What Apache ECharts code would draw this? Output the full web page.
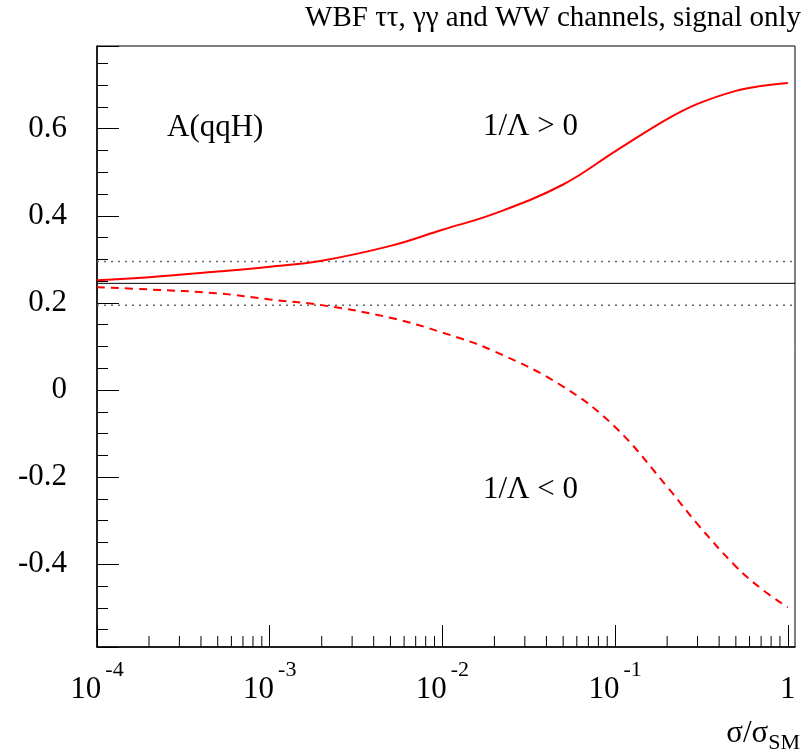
<!DOCTYPE html>
<html>
<head>
<meta charset="utf-8">
<title>A(qqH) vs sigma/sigma_SM</title>
<script src="https://cdn.jsdelivr.net/npm/echarts@6/dist/echarts.min.js"></script>
<style>
html, body { margin: 0; padding: 0; background: #fff; }
#chart { width: 804px; height: 750px; }
</style>
</head>
<body>
<div id="chart"></div>
<script>
// sigma / sigma_SM sample points
const sigmaRatio = [1e-4, 2e-4, 5e-4, 1e-3, 2e-3, 5e-3, 1e-2, 2e-2, 5e-2, 0.1, 0.2, 0.3, 0.5, 0.7, 1.0];
// A(qqH) for 1/Lambda > 0 (solid) and 1/Lambda < 0 (dashed)
const asymPositive = [0.252, 0.259, 0.272, 0.283, 0.297, 0.331, 0.368, 0.405, 0.472, 0.548, 0.622, 0.657, 0.687, 0.698, 0.705];
const asymNegative = [0.236, 0.231, 0.222, 0.208, 0.195, 0.166, 0.132, 0.089, 0.008, -0.085, -0.222, -0.308, -0.405, -0.456, -0.499];
// SM value and its band
const smValue = 0.245;
const bandLow = 0.195;
const bandHigh = 0.295;

const xRange = [1e-4, 1.1];
const yRange = [-0.59, 0.79];
// log minor ticks
const minorDecades = [1e-4, 1e-3, 1e-2, 1e-1];
const minorSteps = [2, 3, 4, 5, 6, 7, 8, 9];

const FONT = 'Liberation Serif';

const chart = echarts.init(document.getElementById('chart'));

const minorX = [];
minorDecades.forEach(d => minorSteps.forEach(k => minorX.push([d * k, yRange[0]])));

function flat(v) {
  return [[xRange[0], v], [xRange[1], v]];
}

chart.setOption({
  animation: false,
  backgroundColor: '#fff',
  grid: {
    left: 97, right: 9, top: 46, bottom: 103,
    show: true, borderColor: '#000', borderWidth: 1
  },
  xAxis: {
    type: 'log',
    logBase: 10,
    min: xRange[0],
    max: xRange[1],
    axisLine: { onZero: false, lineStyle: { color: '#000', width: 1.5 } },
    axisTick: { inside: true, length: 22, lineStyle: { color: '#000' } },
    splitLine: { show: false },
    axisLabel: {
      margin: 12,
      showMaxLabel: false,
      formatter: v => {
        const e = Math.log10(v);
        const r = Math.round(e);
        if (Math.abs(e - r) > 0.01) return '';
        return r === 0 ? '{b|1}' : '{b|10}{s|' + r + '}';
      },
      rich: {
        b: { fontFamily: FONT, fontSize: 31, color: '#000', lineHeight: 46, verticalAlign: 'bottom' },
        s: { fontFamily: FONT, fontSize: 22, color: '#000', lineHeight: 46, verticalAlign: 'top', padding: [0, 0, 0, 4] }
      }
    }
  },
  yAxis: {
    type: 'value',
    min: yRange[0],
    max: yRange[1],
    splitNumber: 7,
    minInterval: 0.2,
    maxInterval: 0.2,
    axisLine: { show: true, onZero: false, lineStyle: { color: '#000', width: 1.5 } },
    axisTick: { inside: true, length: 22, lineStyle: { color: '#000' } },
    minorTick: { show: true, splitNumber: 4, length: 11, lineStyle: { color: '#000' } },
    splitLine: { show: false },
    axisLabel: {
      margin: 30,
      showMinLabel: false,
      showMaxLabel: false,
      fontFamily: FONT,
      fontSize: 31,
      color: '#000'
    }
  },
  graphic: [
    { type: 'text', x: 801, y: 18, style: { text: 'WBF ττ, γγ and WW channels, signal only', fontFamily: FONT, fontSize: 29, fill: '#000', textAlign: 'right', textVerticalAlign: 'middle' } },
    { type: 'text', x: 167, y: 128, style: { text: 'A(qqH)', fontFamily: FONT, fontSize: 31, fill: '#000', textAlign: 'left', textVerticalAlign: 'middle' } },
    { type: 'text', x: 483, y: 127, style: { text: '1/Λ > 0', fontFamily: FONT, fontSize: 31, fill: '#000', textAlign: 'left', textVerticalAlign: 'middle' } },
    { type: 'text', x: 483, y: 490, style: { text: '1/Λ < 0', fontFamily: FONT, fontSize: 31, fill: '#000', textAlign: 'left', textVerticalAlign: 'middle' } },
    {
      type: 'text', x: 800, y: 718,
      style: {
        text: '{a|σ/σ}{b|SM}', textAlign: 'right', textVerticalAlign: 'top',
        rich: {
          a: { fontFamily: FONT, fontSize: 31, fill: '#000', lineHeight: 36, verticalAlign: 'top' },
          b: { fontFamily: FONT, fontSize: 22, fill: '#000', lineHeight: 36, verticalAlign: 'bottom' }
        }
      }
    }
  ],
  series: [
    {
      type: 'custom',
      silent: true,
      clip: false,
      encode: { x: 0, y: 1 },
      data: minorX,
      renderItem: (params, api) => {
        const p = api.coord([api.value(0), yRange[0]]);
        return {
          type: 'line',
          shape: { x1: p[0], y1: p[1], x2: p[0], y2: p[1] - 11 },
          style: { stroke: '#000', lineWidth: 1 }
        };
      }
    },
    {
      type: 'line', data: flat(bandHigh), symbol: 'none', silent: true,
      lineStyle: { color: '#666', width: 1.5, type: [2, 5] }
    },
    {
      type: 'line', data: flat(bandLow), symbol: 'none', silent: true,
      lineStyle: { color: '#666', width: 1.5, type: [2, 5] }
    },
    {
      type: 'line', data: flat(smValue), symbol: 'none', silent: true,
      lineStyle: { color: '#000', width: 1 }
    },
    {
      name: '1/Λ > 0',
      type: 'line',
      data: sigmaRatio.map((x, i) => [x, asymPositive[i]]),
      symbol: 'none',
      smooth: 0.4,
      lineStyle: { color: '#ff0000', width: 2 }
    },
    {
      name: '1/Λ < 0',
      type: 'line',
      data: sigmaRatio.map((x, i) => [x, asymNegative[i]]),
      symbol: 'none',
      smooth: 0.4,
      lineStyle: { color: '#ff0000', width: 2, type: [8, 6] }
    }
  ]
});
</script>
</body>
</html>
